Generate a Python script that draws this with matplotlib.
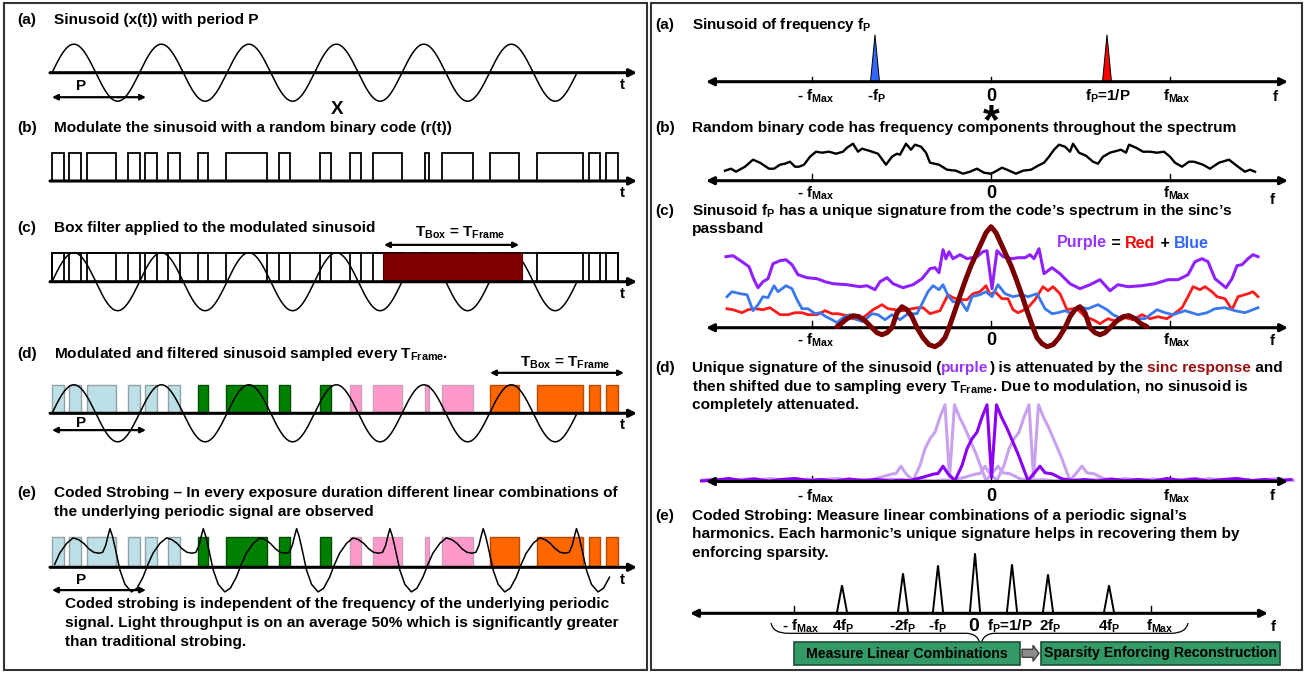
import numpy as np
import matplotlib.pyplot as plt
from matplotlib.patches import Rectangle, FancyArrow, PathPatch
from matplotlib.path import Path

plt.rcParams['font.family'] = ['Liberation Sans', 'DejaVu Sans']
plt.rcParams['font.weight'] = 'bold'
plt.rcParams['mathtext.fontset'] = 'custom'
for k in ('rm', 'it', 'bf'):
    plt.rcParams['mathtext.' + k] = 'Liberation Sans:bold'

# ---------------- data ----------------
# left column: time axis in samples
P_SINE = 87.5
N_PERIODS = 6
T_FRAME = 142
code_on = [0, 17, 35, 76, 93, 116, 146, 174, 227, 268, 298, 321, 373, 390, 438, 485, 537, 554]
code_off = [12, 29, 64, 88, 105, 128, 156, 215, 238, 279, 309, 350, 377, 421, 467, 531, 548, 566]
box_filter = (331, 470)
frame_fill = ['#BCE0E5', '#008000', '#FF99CC', '#FF6600']
frame_edge = ['#8FA3A6', '#004F00', '#C9A0B8', '#B84A00']

# one period of the periodic signal in (e)
P_CODED = 93.3
WAVE_PEAK = 58
WAVE_END = 560
wave_tau = [0, 2.5, 5, 10, 15, 21.5, 27, 33, 38, 43, 50, 56.5, 62, 67, 72, 77, 82, 86, 89, 91.5]
wave_amp = [1.29, 1.03, 0.67, -0.1, -0.57, -0.82, -0.7, -0.33, 0.1, 0.47, 0.8, 0.98, 0.92,
            0.8, 0.62, 0.5, 0.47, 0.5, 0.73, 1.07]

# right column: frequency in bins, f_Max = 179 bins
F_MAX = 179
F_P = 116
TRI_H = 47

spec_f = [-266, -260, -255, -246, -238, -231, -222, -217, -211, -206, -201, -196, -192, -187,
          -181, -175, -169, -162, -155, -148, -144, -138, -133, -129, -122, -113, -105, -99,
          -94, -91, -85, -80, -76, -70, -65, -61, -52, -44, -35, -28, -21, -14, -7, 0, 4, 11,
          16, 25, 32, 40, 47, 53, 58, 63, 68, 74, 79, 82, 88, 95, 102, 107, 112, 119, 130,
          135, 138, 145, 152, 159, 166, 173, 179, 184, 191, 198, 203, 212, 219, 228, 238,
          247, 254, 259, 264]
spec_a = [10, 12, 9, 14, 21, 18, 12, 12, 16, 17, 19, 14, 14, 16, 24, 29, 28, 29, 27, 29, 33, 37,
          29, 32, 30, 27, 16, 24, 27, 26, 37, 31, 36, 34, 28, 18, 16, 11, 10, 7, 9, 12, 8, 7, 9,
          13, 11, 7, 10, 11, 15, 18, 24, 31, 36, 34, 29, 37, 28, 25, 19, 17, 24, 28, 31, 28, 36,
          33, 29, 29, 28, 29, 24, 18, 14, 19, 19, 16, 12, 18, 21, 14, 9, 11, 9]

purple_f = [-265, -258, -249, -242, -237, -233, -228, -223, -218, -211, -205, -199, -193, -184,
            -174, -166, -158, -144, -131, -124, -116, -111, -104, -98, -88, -78, -69, -61, -56,
            -52, -48, -45, -42, -38, -31, -24, -14, -8, -4, 1, 6, 12, 21, 27, 34, 39, 43, 48, 53,
            61, 69, 79, 89, 99, 109, 119, 127, 137, 151, 164, 177, 187, 197, 204, 211, 217, 224,
            235, 241, 246, 251, 257, 262, 267]
purple_a = [71, 72, 66, 61, 48, 40, 46, 49, 64, 67, 68, 63, 53, 50, 49, 46, 44, 43, 41, 42, 38,
            46, 50, 44, 40, 43, 49, 59, 60, 55, 78, 69, 76, 69, 73, 69, 71, 76, 77, 39, 77, 71,
            69, 70, 70, 73, 69, 79, 54, 60, 54, 44, 39, 43, 48, 37, 43, 41, 42, 44, 48, 48, 53,
            66, 69, 66, 49, 40, 49, 62, 63, 69, 73, 71]
blue_f = [-264, -259, -251, -244, -238, -233, -228, -223, -217, -213, -205, -199, -194, -189,
          -183, -176, -171, -165, -159, -154, -148, -141, -134, -128, -119, -113, -106, -99, -91,
          -83, -74, -69, -63, -58, -52, -48, -43, -38, -30, -24, -19, -11, -5, 1, 7, 14, 22, 31,
          37, 46, 54, 61, 67, 74, 81, 87, 97, 107, 116, 122, 131, 137, 147, 154, 166, 174, 182,
          194, 207, 216, 224, 234, 244, 254, 267]
blue_a = [31, 36, 34, 33, 17, 23, 31, 30, 42, 36, 42, 39, 28, 19, 19, 14, 15, 11, 8, 5, 10, 13,
          8, 6, 14, 13, 8, 13, 8, 14, 14, 24, 36, 42, 38, 43, 32, 26, 26, 17, 31, 33, 36, 31, 43,
          34, 31, 33, 31, 34, 19, 14, 15, 17, 14, 21, 19, 23, 18, 13, 9, 13, 9, 9, 18, 15, 13,
          17, 13, 15, 19, 20, 17, 15, 20]
red_f = [-264, -258, -249, -243, -236, -228, -221, -211, -203, -196, -189, -183, -174, -166,
         -159, -153, -144, -138, -131, -124, -118, -109, -103, -96, -88, -79, -73, -68, -61, -51,
         -43, -38, -31, -24, -18, -11, -5, -1, 4, 11, 17, 22, 27, 36, 44, 52, 57, 62, 69, 76, 82,
         87, 94, 102, 109, 117, 126, 134, 142, 151, 159, 167, 176, 182, 191, 197, 202, 209, 214,
         221, 226, 234, 241, 247, 257, 262, 267]
red_a = [19, 18, 15, 18, 19, 18, 20, 13, 13, 15, 15, 13, 13, 17, 14, 14, 12, 9, 8, 13, 18, 23,
         19, 18, 17, 19, 20, 20, 14, 17, 33, 30, 28, 28, 34, 36, 42, 33, 36, 29, 29, 18, 15, 19,
         28, 41, 37, 41, 34, 18, 19, 18, 11, 8, 4, 9, 6, 10, 8, 13, 9, 11, 9, 13, 20, 31, 41, 38,
         41, 36, 31, 29, 18, 31, 34, 36, 31]
sinc_f = [-154, -150, -144, -138, -132, -126, -119, -114, -109, -104, -99, -94, -89, -84, -79,
          -74, -68, -62, -56, -51, -46, -42, -35, -30, -25, -20, -15, -10, -5, 0, 5, 10, 15, 20,
          25, 30, 35, 42, 46, 51, 56, 62, 68, 74, 79, 84, 89, 94, 99, 104, 109, 114, 119, 126,
          132, 138, 144, 150, 156]
sinc_a = [1, 4, 9, 12, 11, 7, 0, -5, -7, -5, 0, 15, 21, 18, 11, 0, -10, -17, -19, -16, -10, 0,
          20, 35, 49, 62, 73, 84, 95, 101, 95, 84, 73, 62, 49, 35, 20, 0, -10, -16, -19, -17,
          -10, 0, 11, 18, 21, 15, 0, -5, -7, -5, 0, 7, 11, 12, 9, 4, 1]

F_SHIFT = 42
sig_f = [-305, -290, -275, -262, -250, -236, -222, -210, -196, -182, -170, -156, -142, -128,
         -114, -100, -90, -81, -68, -58, -53, -48, -43, -36, -29, -24, -19, -14, -9, -4, 0.5,
         5.5, 10.5, 15.5, 20.5, 27, 37, 44, 49, 54, 61, 71, 82, 94, 106, 120, 134, 148, 162,
         176, 190, 204, 218, 232, 246, 260, 274, 288, 300]
sig_a = [2, 0.5, 1.5, 3, 1, 2.5, 0.5, 2, 3, 1, 2, 0.5, 2.5, 1, 2, 0.5, 1.5, 1, 4.3, 7.3, 8, 15.3,
         7.7, 1, 16, 32.7, 42.7, 49.3, 64.3, 76.7, 4.3, 76.7, 64.3, 54.3, 42.7, 27.7, 1, 9.3,
         15.3, 8.7, 7.7, 2.7, 1, 2, 0.5, 2.5, 1, 2, 0.5, 3, 1, 2.5, 0.5, 2, 3, 1, 2, 0.5, 2]

harm_f = [-133, -72, -37, 0, 37, 73, 134]
harm_h = [28, 40, 48, 60, 49, 39, 28]
harm_labels = ['- $f_{Max}$', '4$f_P$', '-2$f_P$', '-$f_P$', '0', '$f_P$=1/P', '2$f_P$',
               '4$f_P$', '$f_{Max}$']
harm_label_f = [-174, -132, -72, -38, -1, 35, 75, 134, 185]

# ---------------- figure ----------------
W, H = 1307, 673
fig = plt.figure(figsize=(W / 100, H / 100), dpi=100)
fx = fig.add_axes([0, 0, 1, 1])
fx.set_xlim(0, W)
fx.set_ylim(H, 0)
fx.axis('off')

FS = 11.1
LFS = 11


def panel(x0, x1, xlim, y0, ypx, ylim):
    top = y0 - ylim[1] * ypx
    bot = y0 - ylim[0] * ypx
    ax = fig.add_axes([x0 / W, 1 - bot / H, (x1 - x0) / W, (bot - top) / H])
    ax.set_xlim(xlim)
    ax.set_ylim(ylim)
    ax.axis('off')
    return ax


def arrow(ax, a, b, y, style='-|>', lw=2.2, ms=11):
    ax.annotate('', xy=(b, y), xytext=(a, y), annotation_clip=False,
                arrowprops=dict(arrowstyle=style, lw=lw, color='k', mutation_scale=ms,
                                shrinkA=0, shrinkB=0))


def title(x, y, s, **kw):
    fx.text(x, y, s, fontsize=FS, va='center', ha='left', **kw)


def color_line(x, y, parts, fs=FS):
    t = fx.text(x, y, parts[0][0], color=parts[0][1], fontsize=fs, va='center', ha='left')
    for s, c in parts[1:]:
        t = fx.annotate(s, xy=(1, 0), xycoords=t, color=c, fontsize=fs, va='bottom', ha='left')


def code_boxes(ax, colored=False, lw=1.3):
    for on, off in zip(code_on, code_off):
        k = int(on // T_FRAME)
        fc = frame_fill[k] if colored else 'white'
        ec = frame_edge[k] if colored else 'black'
        ax.add_patch(Rectangle((on, 0), off - on, 1, fc=fc, ec=ec, lw=lw if not colored else 1.0))


sine_t = np.linspace(0, N_PERIODS * P_SINE, 800)
sine_y = np.sin(2 * np.pi * sine_t / P_SINE)

LX0, LX1, LXLIM = 50, 637, (-2, 585)

# (a) sinusoid
ax = panel(LX0, LX1, LXLIM, 72.7, 28.5, (-1.6, 1.6))
ax.plot(sine_t, sine_y, color='k', lw=1.1)
arrow(ax, -2, 585, 0)
arrow(ax, 0, 94, -0.86, style='<|-|>', lw=1.6, ms=8)
ax.text(29, -0.45, 'P', fontsize=11, ha='center', va='center')

# (b) random binary code
ax = panel(LX0, LX1, LXLIM, 181, 28.5, (-0.6, 1.3))
code_boxes(ax)
arrow(ax, -2, 585, 0)

# (c) box filter
ax = panel(LX0, LX1, LXLIM, 281.7, 29, (-1.4, 2.1))
code_boxes(ax)
ax.add_patch(Rectangle((code_on[0], 0), code_off[-1] - code_on[0], 1, fc='none', ec='k', lw=1.3))
ax.plot(sine_t, sine_y, color='k', lw=1.1)
ax.add_patch(Rectangle((box_filter[0], 0), box_filter[1] - box_filter[0], 1, fc='#800000',
                       ec='#5a0000', lw=0.8, zorder=3))
arrow(ax, -2, 585, 0)
arrow(ax, box_filter[0] + 1, box_filter[1] - 3, 1.27, style='<|-|>', lw=1.6, ms=8)
ax.text(np.mean(box_filter) + 8, 1.68, '$T_{Box}$ = $T_{Frame}$', fontsize=11,
        ha='center', va='center')

# (d) sampled every frame
ax = panel(LX0, LX1, LXLIM, 413.3, 28.5, (-1.4, 2.1))
code_boxes(ax, colored=True)
ax.plot(sine_t, sine_y, color='k', lw=1.1)
arrow(ax, -2, 585, 0)
arrow(ax, 0, 94, -0.59, style='<|-|>', lw=1.6, ms=8)
ax.text(29, -0.33, 'P', fontsize=11, ha='center', va='center')
arrow(ax, 438, 572, 1.42, style='<|-|>', lw=1.6, ms=8)
ax.text(513, 1.78, '$T_{Box}$ = $T_{Frame}$', fontsize=11, ha='center', va='center')

# (e) coded strobing
ax = panel(LX0, LX1, LXLIM, 567.3, 30, (-1.2, 1.6))
code_boxes(ax, colored=True)
tau = np.array(wave_tau)
wt = np.concatenate([tau + WAVE_PEAK + k * P_CODED for k in range(-1, 6)])
wa = np.tile(wave_amp, 7)
keep = (wt >= 0) & (wt <= WAVE_END)
ax.plot(wt[keep], wa[keep], color='k', lw=1.1)
arrow(ax, -2, 585, 0)
arrow(ax, 0, 94, -0.76, style='<|-|>', lw=1.6, ms=8)
ax.text(29, -0.42, 'P', fontsize=11, ha='center', va='center')

# left texts
for y in (85, 193, 294, 425, 580):
    fx.text(622, y, 't', fontsize=11, ha='center', va='center')
fx.text(337, 110, 'X', fontsize=13.5, ha='center', va='center')
title(17, 20, '(a)')
title(54, 20, 'Sinusoid (x(t)) with period P')
title(17, 128, '(b)')
title(54, 128, 'Modulate the sinusoid with a random binary code (r(t))')
title(17, 228, '(c)')
title(54, 228, 'Box filter applied to the modulated sinusoid')
title(17, 354, '(d)')
title(54, 354, 'Modulated and filtered sinusoid sampled every $T_{Frame}$.')
title(17, 493, '(e)')
title(54, 493, 'Coded Strobing \u2013 In every exposure duration different linear combinations of')
title(54, 512, 'the underlying periodic signal are observed')
title(65, 604, 'Coded strobing is independent of the frequency of the underlying periodic')
title(65, 623, 'signal. Light throughput is on an average 50% which is significantly greater')
title(65, 642, 'than traditional strobing.')

# ---------------- right column ----------------
RX0, RX1, RXLIM = 700, 1295, (-291, 304)


def f_ticks(ax, ticks, h=6):
    for f in ticks:
        ax.plot([f, f], [0, h], color='k', lw=1.0)


def f_labels(ax, y, zero_fs=13):
    ax.text(-175, y, '- $f_{Max}$', fontsize=LFS, ha='center', va='center')
    ax.text(0, y, '0', fontsize=zero_fs, ha='center', va='center')
    ax.text(186, y, '$f_{Max}$', fontsize=LFS, ha='center', va='center')


# (a) spectrum of the sinusoid
ax = panel(RX0, RX1, RXLIM, 81.7, 1, (-25, 60))
f_ticks(ax, [-F_MAX, 0, F_MAX], h=5)
for f0, c in ((-F_P, '#3366FF'), (F_P, '#FF0000')):
    ax.fill([f0 - 4.5, f0, f0 + 4.5], [0, TRI_H, 0], fc=c, ec='k', lw=0.7, zorder=3)
arrow(ax, -285, 297, 0, style='<|-|>')
f_labels(ax, -15)
ax.text(-115, -15, '-$f_P$', fontsize=LFS, ha='center', va='center')
ax.text(F_P + 1, -15, '$f_P$=1/P', fontsize=LFS, ha='center', va='center')
ax.text(284, -15, 'f', fontsize=11, ha='center', va='center')
# convolution sign (mathtext so its box hugs the glyph)
fx.text(991, 121, '$*$', fontsize=31, ha='center', va='center')

# (b) spectrum of the code
ax = panel(RX0, RX1, RXLIM, 180.7, 1, (-25, 45))
f_ticks(ax, [-F_MAX, 0, F_MAX], h=7)
ax.plot(spec_f, spec_a, color='k', lw=1.7, solid_joinstyle='round')
arrow(ax, -285, 297, 0, style='<|-|>')
f_labels(ax, -13)
ax.text(281, -19, 'f', fontsize=11, ha='center', va='center')

# (c) signature in the sinc passband
ax = panel(RX0, RX1, RXLIM, 327.7, 1, (-25, 105))
f_ticks(ax, [-F_MAX, 0, F_MAX], h=7)
ax.plot(red_f, red_a, color='#FF1A1A', lw=2.0, solid_joinstyle='round')
ax.plot(blue_f, blue_a, color='#3A78EE', lw=2.0, solid_joinstyle='round')
ax.plot(purple_f, purple_a, color='#9020FF', lw=2.2, solid_joinstyle='round')
ax.plot(sinc_f, sinc_a, color='#7A0000', lw=3.6, solid_joinstyle='round',
        solid_capstyle='round', zorder=4)
arrow(ax, -285, 297, 0, style='<|-|>')
f_labels(ax, -13)
ax.text(281, -13, 'f', fontsize=11, ha='center', va='center')

# (d) attenuated and shifted signature
ax = panel(RX0, RX1, RXLIM, 481.5, 1, (-20, 80))
f_ticks(ax, [-F_MAX, 0, F_MAX], h=6)
sf = np.array(sig_f)
for s in (-F_SHIFT, F_SHIFT):
    ax.plot(sf + s, sig_a, color='#C8A2EE', lw=2.2, solid_joinstyle='round')
ax.plot(sf, sig_a, color='#8A00F5', lw=2.2, solid_joinstyle='round')
arrow(ax, -285, 297, 0, style='<|-|>')
f_labels(ax, -15)
ax.text(281, -15, 'f', fontsize=11, ha='center', va='center')

# (e) harmonics
ax = panel(685, 1280, (-290, 305), 613.3, 1, (-15, 70))
f_ticks(ax, [-181, 176], h=7)
for f0, h in zip(harm_f, harm_h):
    ax.fill([f0 - 5.2, f0, f0 + 5.2], [0, h, 0], fc='white', ec='k', lw=1.4, zorder=3)
arrow(ax, -285, 293, 0, style='<|-|>')
for f0, s in zip(harm_label_f, harm_labels):
    ax.text(f0, -13.4, s, fontsize=14 if s == '0' else LFS, ha='center', va='center')
ax.text(298, -13.4, 'f', fontsize=11, ha='center', va='center')

brace = Path([(771, 623), (773, 633.3), (788, 633.3), (966, 633.3), (979, 633.3),
              (980.5, 646.7), (982, 633.3), (995, 633.3), (1171, 633.3), (1186, 633.3),
              (1188, 623)],
             [Path.MOVETO, Path.CURVE3, Path.CURVE3, Path.LINETO, Path.CURVE3, Path.CURVE3,
              Path.CURVE3, Path.CURVE3, Path.LINETO, Path.CURVE3, Path.CURVE3])
fx.add_patch(PathPatch(brace, fc='none', ec='k', lw=0.9))
fx.add_patch(Rectangle((794, 641.7), 226, 23.3, fc='#339966', ec='#1C4F35', lw=1.2, zorder=3))
fx.add_patch(Rectangle((1041, 641.7), 239, 23.3, fc='#339966', ec='#1C4F35', lw=1.2, zorder=3))
fx.text(907, 653.5, 'Measure Linear Combinations', fontsize=10.2, ha='center', va='center',
        zorder=4)
fx.text(1160.5, 653.5, 'Sparsity Enforcing Reconstruction', fontsize=10.2, ha='center',
        va='center', zorder=4)
fx.add_patch(FancyArrow(1022, 653.3, 17, 0, width=8, head_width=16, head_length=6,
                        length_includes_head=True, fc='#8C8C8C', ec='#3F3F3F', lw=1.0))

# right texts
title(655, 25, '(a)')
title(692, 25, 'Sinusoid of frequency $f_P$')
title(655, 128, '(b)')
title(692, 128, 'Random binary code has frequency components throughout the spectrum')
title(655, 211, '(c)')
title(692, 211, 'Sinusoid $f_P$ has a unique signature from the code\u2019s spectrum in the sinc\u2019s')
title(692, 229, 'passband')
color_line(1057, 243, [('Purple', '#9933FF'), (' = ', 'k'), ('Red', '#FF0000'), (' + ', 'k'),
                       ('Blue', '#3366FF')], fs=11.5)
title(655, 368, '(d)')
color_line(692, 368, [('Unique signature of the sinusoid (', 'k'), ('purple', '#9933FF'),
                      (') is attenuated by the ', 'k'), ('sinc response', '#9A1010'),
                      (' and', 'k')])
title(692, 387, 'then shifted due to sampling every $T_{Frame}$. Due to modulation, no sinusoid is')
title(692, 405, 'completely attenuated.')
title(655, 516, '(e)')
title(692, 516, 'Coded Strobing: Measure linear combinations of a periodic signal\u2019s')
title(692, 534, 'harmonics. Each harmonic\u2019s unique signature helps in recovering them by')
title(692, 553, 'enforcing sparsity.')

# panel frames
fx.add_patch(Rectangle((4, 3), 643, 667, fc='none', ec='#333333', lw=1.5))
fx.add_patch(Rectangle((651, 3), 651, 667, fc='none', ec='#333333', lw=1.5))

fig.savefig('out.png', dpi=100)
